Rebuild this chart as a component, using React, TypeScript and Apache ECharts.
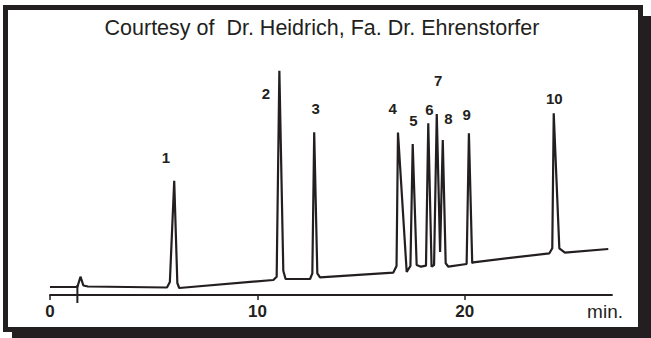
import React, { useEffect, useRef } from "react";
import * as echarts from "echarts";

// Chromatogram trace: retention time (min) and detector signal (arbitrary units)
const times = [0, 1.32, 1.47, 1.61, 1.83, 5.64, 5.78, 5.99, 6.14, 6.23, 10.77, 10.93, 11.06, 11.25, 11.36, 12.54, 12.65, 12.74, 12.89, 13.02, 16.55, 16.71, 16.78, 17.2, 17.38, 17.49, 17.68, 17.89, 18.13, 18.24, 18.4, 18.52, 18.65, 18.81, 18.94, 19.08, 19.21, 20.09, 20.2, 20.36, 20.41, 24.08, 24.22, 24.29, 24.56, 24.83, 26.92];
const signal = [8, 8, 18.3, 9.5, 8.5, 7.5, 13, 114.3, 12, 7, 15, 18.3, 224.3, 24.3, 16, 16, 21.7, 162.7, 21.7, 17.7, 22.3, 29, 162.5, 23, 29, 151, 30, 28.3, 29.3, 171.7, 28.3, 30, 181, 43, 155, 31.7, 28.3, 31, 161.7, 31.7, 32.7, 41.7, 46.7, 181.7, 46.7, 42.3, 46];

// Peak numbering annotations
const peakNames = ["1", "2", "3", "4", "5", "6", "7", "8", "9", "10"];
const labelTimes = [5.59, 10.41, 12.81, 16.52, 17.52, 18.29, 18.72, 19.21, 20.09, 24.32];
const labelLevels = [137.5, 201.7, 186.7, 186.7, 175, 185.7, 215, 176.7, 180.7, 196.7];

// Injection mark
const injectionTime = 1.32;
const injectionSpan = [10, -8];

// Axis
const tickValues = [0, 10, 20];
const titleText = "Courtesy of  Dr. Heidrich, Fa. Dr. Ehrenstorfer";
const axisUnit = "min.";

const INK = "#231f20";
const FONT = "'Liberation Sans', Arial, Helvetica, sans-serif";

export default function App() {
  const ref = useRef<HTMLDivElement>(null);
  useEffect(() => {
    document.body.style.margin = "0";
    const chart = echarts.init(ref.current!, null, { renderer: "svg" });
    const trace = times.map((t, i) => [t, signal[i]]);
    const labels = peakNames.map((n, i) => ({ value: [labelTimes[i], labelLevels[i]], name: n }));
    chart.setOption({
      animation: false,
      backgroundColor: "#ffffff",
      graphic: [
        {
          type: "rect",
          z: -10,
          shape: { x: 12, y: 16, width: 639, height: 322 },
          style: { fill: INK },
          silent: true,
        },
        {
          type: "rect",
          z: -9,
          shape: { x: 5.5, y: 7.5, width: 635, height: 322 },
          style: { fill: "#ffffff", stroke: INK, lineWidth: 5 },
          silent: true,
        },
        {
          type: "text",
          z: 5,
          x: 322,
          y: 28,
          style: {
            text: titleText,
            fill: INK,
            font: `21.5px ${FONT}`,
            textAlign: "center",
            textVerticalAlign: "middle",
          },
        },
      ],
      grid: { left: 50, right: 39, top: 60, bottom: 33, containLabel: false },
      xAxis: {
        type: "value",
        min: 0,
        max: 27.1,
        interval: 10,
        name: axisUnit,
        nameLocation: "end",
        nameGap: 11,
        nameTextStyle: {
          color: INK,
          fontFamily: FONT,
          fontSize: 19,
          align: "right",
          verticalAlign: "top",
          padding: [7, 0, 0, 0],
        },
        axisLine: { onZero: true, lineStyle: { color: INK, width: 1.8 } },
        axisTick: { show: true, length: 5, customValues: tickValues, lineStyle: { color: INK, width: 1.5 } },
        axisLabel: {
          customValues: tickValues,
          color: INK,
          fontFamily: FONT,
          fontSize: 17,
          fontWeight: "bold",
          margin: -2,
        },
        splitLine: { show: false },
      },
      yAxis: {
        type: "value",
        min: -10,
        max: 235,
        show: false,
        splitLine: { show: false },
      },
      series: [
        {
          type: "line",
          data: trace,
          symbol: "none",
          lineStyle: { color: INK, width: 2.2 },
          z: 3,
        },
        {
          type: "line",
          data: injectionSpan.map((v) => [injectionTime, v]),
          symbol: "none",
          lineStyle: { color: INK, width: 2 },
          z: 3,
        },
        {
          type: "scatter",
          data: labels,
          symbolSize: 0,
          itemStyle: { color: INK, opacity: 1 },
          label: {
            show: true,
            position: "inside",
            formatter: (p: any) => p.name,
            color: INK,
            opacity: 1,
            textBorderWidth: 0,
            textBorderColor: "transparent",
            fontFamily: FONT,
            fontSize: 15,
            fontWeight: "bold",
          },
          z: 4,
        },
      ],
    });
    return () => chart.dispose();
  }, []);
  return (
    <div
      ref={ref}
      style={{ position: "fixed", left: 0, top: 0, width: 651, height: 338 }}
    />
  );
}
